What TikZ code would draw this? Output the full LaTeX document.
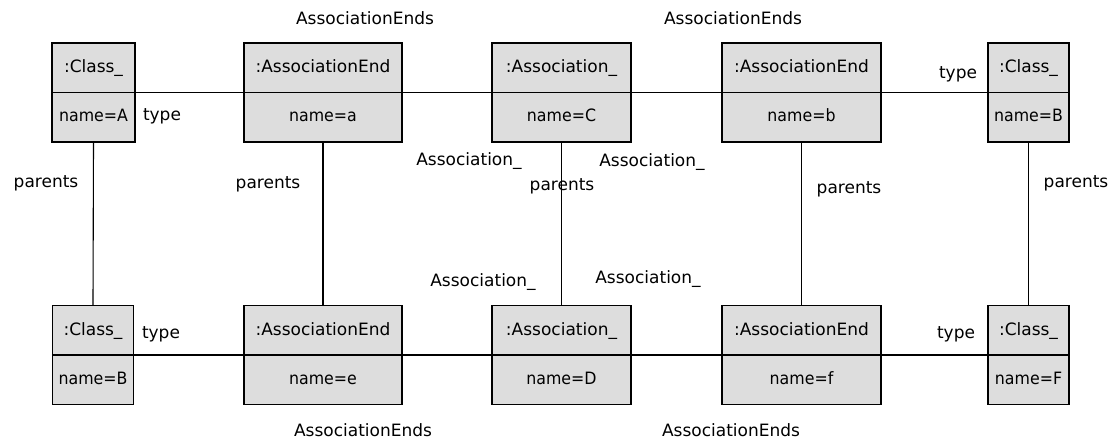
\documentclass[tikz,border=0pt]{standalone}
\usepackage{fontspec}
\setmainfont{DejaVu Sans}
\definecolor{boxgray}{RGB}{221,221,221}
\usetikzlibrary{calc}
\tikzset{
  obj/.style={draw=black, line width=1.1pt, fill=boxgray, minimum height=99pt, inner sep=0pt},
  txt/.style={font=\fontsize{17}{20}\selectfont, inner sep=0pt, text height=12pt, text depth=3pt},
  conn/.style={line width=1.1pt},
}
% name, x-center, y-center, width, head, attribute
\newcommand\umlbox[6]{%
  \node[obj, minimum width=#4pt] (#1) at (#2,#3) {};
  \draw[conn] (#1.west) -- (#1.east);
  \node[txt] (#1-head) at ($(#1.center)+(0,-24.5)$) {#5};
  \node[txt, xscale=0.93] (#1-attr) at ($(#1.center)+(0,24.5)$) {#6};
}
\begin{document}
\begin{tikzpicture}[x=1pt,y=-1pt]
\useasboundingbox (0,0) rectangle (1118,443);
% top row
\umlbox{A}{93.5}{92.5}{83}{:Class\_}{name=A}
\umlbox{a}{323}{92.5}{158}{:AssociationEnd}{name=a}
\umlbox{C}{561.5}{92.5}{139}{:Association\_}{name=C}
\umlbox{b}{801.5}{92.5}{159}{:AssociationEnd}{name=b}
\umlbox{B1}{1028.5}{92.5}{81}{:Class\_}{name=B}
% bottom row
\umlbox{B2}{93}{355}{81}{:Class\_}{name=B}
\umlbox{e}{323}{355}{158}{:AssociationEnd}{name=e}
\umlbox{D}{561.5}{355}{139}{:Association\_}{name=D}
\umlbox{f}{801.5}{355}{159}{:AssociationEnd}{name=f}
\umlbox{F}{1028.5}{355}{81}{:Class\_}{name=F}
% horizontal connectors
\draw[conn] (A.east) -- (a.west);
\draw[conn] (a.east) -- (C.west);
\draw[conn] (C.east) -- (b.west);
\draw[conn] (b.east) -- (B1.west);
\draw[conn] (B2.east) -- (e.west);
\draw[conn] (e.east) -- (D.west);
\draw[conn] (D.east) -- (f.west);
\draw[conn] (f.east) -- (F.west);
% vertical connectors
\draw[conn] (A.south) -- (B2.north);
\draw[conn] (a.south) -- (e.north);
\draw[conn] (C.south) -- (D.north);
\draw[conn] (b.south) -- (f.north);
\draw[conn] (B1.south) -- (F.north);
% labels
\node[txt] (l1) at (365,20) {AssociationEnds};
\node[txt] (l2) at (733,20) {AssociationEnds};
\node[txt] (l3) at (363,432) {AssociationEnds};
\node[txt] (l4) at (731,432) {AssociationEnds};
\node[txt] (t1) at (162,116) {type};
\node[txt] (t2) at (958,74) {type};
\node[txt] (t3) at (161,334) {type};
\node[txt] (t4) at (956,334) {type};
\node[txt] (p1) at (46,183) {parents};
\node[txt] (p2) at (268,184) {parents};
\node[txt] (p3) at (562,186) {parents};
\node[txt] (p4) at (849,189) {parents};
\node[txt] (p5) at (1076,183) {parents};
\node[txt] (s1) at (469,161) {Association\_};
\node[txt] (s2) at (652,162) {Association\_};
\node[txt] (s3) at (483,282) {Association\_};
\node[txt] (s4) at (648,279) {Association\_};
\end{tikzpicture}
\end{document}
